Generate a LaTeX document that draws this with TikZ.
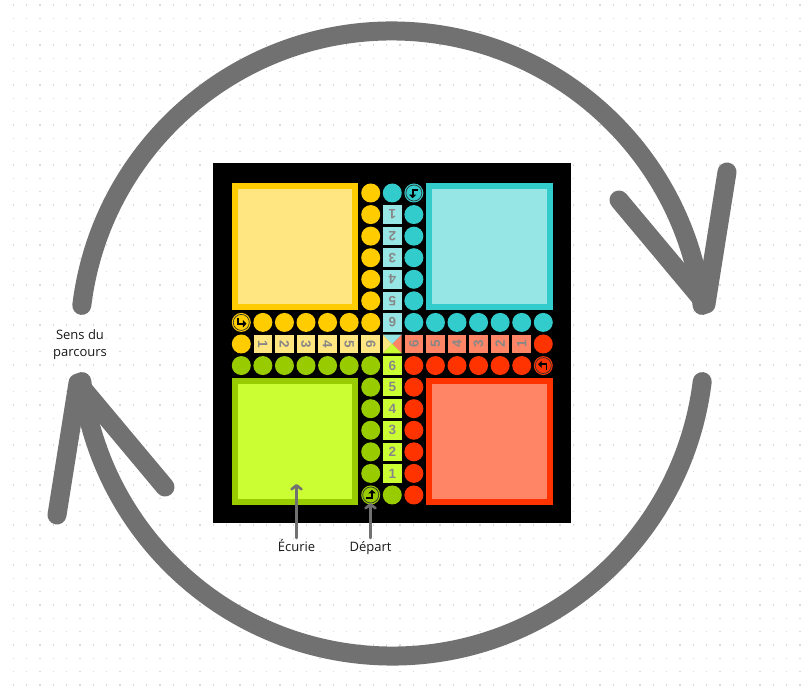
\documentclass[tikz,border=0pt]{standalone}
\usepackage{fontspec}
\setmainfont{Open Sans}
\newfontfamily\chiffres{Liberation Sans}
\usetikzlibrary{arrows.meta}
\definecolor{ydark}{HTML}{FFCC00}
\definecolor{ylight}{HTML}{FFE680}
\definecolor{cdark}{HTML}{33CCCC}
\definecolor{clight}{HTML}{96E6E6}
\definecolor{gdark}{HTML}{99CC00}
\definecolor{glight}{HTML}{CCFF33}
\definecolor{rdark}{HTML}{FF3300}
\definecolor{rlight}{HTML}{FF8566}
\definecolor{fleche}{HTML}{717171}
\definecolor{chiffre}{HTML}{878787}
\definecolor{pointille}{HTML}{DADADA}
\tikzset{
	sens/.style={fleche, line width=19pt, line cap=round, line join=round},
	renvoi/.style={fleche, line width=2.6pt, line cap=round, -{Straight Barb[length=4pt,width=10pt,round]}},
	legende/.style={font=\fontsize{13}{17}\selectfont, text=black!90},
	case/.style={minimum size=18.5pt, inner sep=0pt, font=\chiffres\bfseries\fontsize{13.5}{13.5}\selectfont, text=chiffre},
	pion/.style={radius=9.5pt}
}
\begin{document}
\begin{tikzpicture}[x=1pt,y=1pt]
	\useasboundingbox (0,0) rectangle (803,-687);
	\fill[white] (0,0) rectangle (803,-687);
	% fond
	\foreach \i in {1,...,60}
		\foreach \j in {0,...,51}
			\fill[pointille] (13.333*\i-0.7,-5.7-13.333*\j) rectangle ++(1.4,1.4);
	% sens du parcours
	\foreach \r in {0,180} {
		\begin{scope}[rotate around={\r:(392,-343.5)}]
			\draw[sens] (81.8,-305.4) arc[start angle=173, end angle=7, radius=312.5];
			\draw[sens] (619,-200) -- (706,-304) -- (727,-172);
		\end{scope}
	}
	% plateau
	\fill[black] (213,-163) rectangle (571,-523);
	\begin{scope}[shift={(241.3,-193)}, x=21.57pt, y=-21.57pt]
		\foreach \q/\fonce/\clair in {0/ydark/ylight, 1/cdark/clight, 2/rdark/rlight, 3/gdark/glight} {
			\begin{scope}[rotate around={-90*\q:(7,7)}, transform shape]
				\draw[\fonce, fill=\clair, line width=6pt] (-0.31,-0.31) rectangle (5.29,5.29);
				\foreach \k in {0,...,6} \fill[\fonce] (6,\k) circle[pion];
				\foreach \k in {0,...,5} \fill[\fonce] (\k,6) circle[pion];
				\fill[\fonce] (0,7) circle[pion];
				\foreach \k in {1,...,6} \node[case, fill=\clair, rotate=-90] (n\q\k) at (\k,7) {\k};
				\fill[\clair] (7,7) -- (6.57,6.57) -- (6.57,7.43) -- cycle;
				% case de depart
				\draw[black!80, line width=0.7pt] (0,6) circle[radius=8pt];
				\begin{scope}[shift={(0,6)}]
					\draw[black, line width=1.9pt, -{Triangle[length=3.5pt,width=7pt]}] (-0.15,-0.2) -- (-0.15,0.06) -- (0.24,0.06);
				\end{scope}
			\end{scope}
		}
	\end{scope}
	% legendes
	\node[legende, align=center] (sens) at (80,-345) {Sens du\\parcours};
	\node[legende, text height=10pt, text depth=3pt] (ecurie) at (296.5,-548) {Écurie};
	\node[legende, text height=10pt, text depth=3pt] (depart) at (370.5,-548) {Départ};
	\coordinate (pointe ecurie) at (296.5,-484);
	\coordinate (pointe depart) at (370.5,-503);
	\draw[renvoi] (ecurie) -- (pointe ecurie);
	\draw[renvoi] (depart) -- (pointe depart);
\end{tikzpicture}
\end{document}
